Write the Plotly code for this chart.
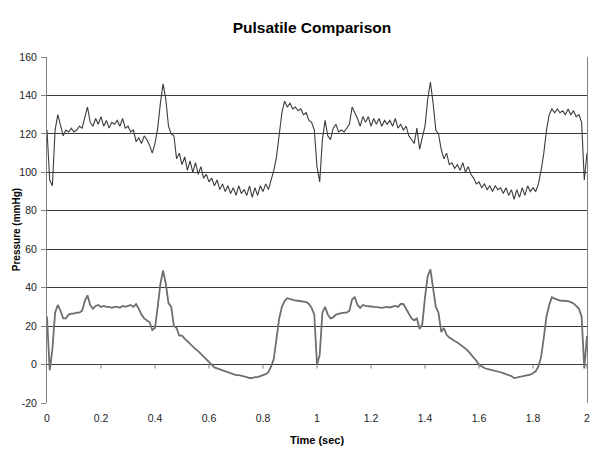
import plotly.graph_objects as go

# sample times, 0.01 s apart
time_sec = [round(i * 0.01, 2) for i in range(201)]

# upper trace (noisy)
upper_cycle1 = [122, 96, 93, 122, 130, 125, 119, 122, 121, 123,
                121, 122, 124, 123, 129, 134, 126, 124, 128, 125,
                129, 124, 127, 123, 126, 125, 127, 124, 128, 123,
                124, 121, 122, 116, 118, 115, 119, 117, 114, 110,
                115, 123, 136, 146, 138, 124, 120, 119, 107, 110,
                104, 108, 101, 106, 100, 105, 99, 103, 97, 99,
                95, 97, 93, 96, 91, 94, 90, 93, 89, 92,
                88, 93, 89, 91, 88, 93, 87, 92, 88, 93,
                90, 94, 91, 96, 101, 108, 120, 131, 137, 134,
                136, 133, 134, 132, 133, 130, 131, 127, 126, 122]
upper_cycle2 = [103, 95, 117, 127, 119, 117, 123, 125, 121, 122,
                121, 123, 125, 134, 131, 128, 124, 129, 126, 129,
                124, 128, 125, 128, 124, 127, 125, 127, 124, 128,
                123, 125, 122, 124, 119, 117, 115, 123, 112, 118,
                124, 138, 147, 136, 122, 120, 112, 107, 110, 104,
                105, 102, 104, 101, 105, 100, 103, 99, 97, 94,
                95, 92, 94, 91, 93, 90, 93, 91, 92, 89,
                92, 88, 91, 86, 91, 87, 92, 88, 93, 90,
                92, 90, 94, 101, 110, 122, 130, 133, 131, 133,
                131, 132, 130, 133, 130, 132, 129, 130, 126, 96,
                110]

# lower trace (smoother)
lower_cycle1 = [25, -3, 8, 27, 31, 28, 24, 24, 26, 26.5,
                26.5, 27, 27, 28, 33, 36, 31, 29, 30.5, 31,
                30, 30.5, 30, 30, 29.5, 30, 30, 29.5, 30.5, 30,
                30.5, 31, 30, 31.5, 29, 26, 24, 23, 22, 18,
                19, 30, 42, 49, 42, 32, 30, 20, 19, 15,
                15, 13.5, 12, 11, 9.5, 8, 7, 5.5, 4.5, 3,
                1, 0, -1.5, -2, -2.5, -3, -3.8, -4, -4.5, -5,
                -5.5, -5.5, -6, -6.2, -6.5, -7, -7, -6.5, -6.5, -6,
                -5.5, -5, -4, -1, 3, 13, 24, 30, 33, 34.5,
                34, 33.5, 33.3, 33.2, 33, 33, 32.5, 31.5, 29.5, 26]
lower_cycle2 = [0, 5, 27, 30, 26, 24, 24.5, 26, 26.5, 26.8,
                27, 27, 28, 34, 35, 31, 29.5, 31, 30.5, 30.5,
                30.2, 30, 30, 29.8, 29.5, 29.8, 30, 29.7, 30.3, 30.5,
                30, 31.5, 31.5, 29, 26, 24, 23, 24, 18.5, 21,
                35, 46, 49.5, 40, 30, 27, 17, 19, 15.5, 14,
                13, 12.3, 11.5, 10.5, 9.5, 8.3, 7, 5.5, 4, 2,
                0, -1, -1.8, -2.3, -2.6, -3, -3.3, -3.7, -4, -4.5,
                -5, -5.3, -6, -7, -6.7, -6.5, -6.3, -6, -5.8, -5.3,
                -4.5, -3.5, -1, 4, 14, 25, 31, 35, 34.3, 33.6,
                33.3, 33.2, 33.2, 33, 32.5, 31.8, 30.5, 29, 25, -2,
                15]

upper = upper_cycle1 + upper_cycle2
lower = lower_cycle1 + lower_cycle2

x_ticks = [0, 0.2, 0.4, 0.6, 0.8, 1, 1.2, 1.4, 1.6, 1.8, 2]
x_labels = ["0", "0.2", "0.4", "0.6", "0.8", "1", "1.2", "1.4", "1.6", "1.8", "2"]
y_ticks = [-20, 0, 20, 40, 60, 80, 100, 120, 140, 160]
y_labels = ["-20", "0", "20", "40", "60", "80", "100", "120", "140", "160"]

font = "Liberation Sans, Arial, sans-serif"

fig = go.Figure()
fig.add_trace(go.Scatter(x=time_sec, y=upper, mode="lines",
                         line=dict(color="#3c3c3c", width=1.1)))
fig.add_trace(go.Scatter(x=time_sec, y=lower, mode="lines",
                         line=dict(color="#6e6e6e", width=1.8)))

# excel puts the category axis at y=0, so the tick marks sit there
for t in x_ticks[1:]:
    fig.add_shape(type="line", xref="x", yref="y", x0=t, x1=t,
                  ysizemode="pixel", yanchor=0, y0=0, y1=-4,
                  line=dict(color="#808080", width=1))

# y title as an annotation so it can sit closer to the tick labels
fig.add_annotation(text="<b>Pressure (mmHg)</b>", textangle=-90,
                   xref="paper", yref="paper", x=-0.057, y=0.5,
                   xanchor="center", yanchor="middle", showarrow=False,
                   font=dict(size=10, color="#000"))

fig.update_layout(
    width=600, height=456,
    margin=dict(l=47, r=13, t=57, b=53),
    paper_bgcolor="white", plot_bgcolor="white",
    showlegend=False,
    font=dict(family=font, size=10.5, color="#222"),
    title=dict(text="<b>Pulsatile Comparison</b>", x=0.52, xanchor="center",
               y=0.939, yanchor="middle", yref="container",
               font=dict(size=15.5, color="#000")),
)
fig.update_xaxes(range=[0, 2], tickvals=x_ticks, ticktext=x_labels, ticks="",
                 showgrid=False, zeroline=False, showline=False,
                 ticklabelstandoff=7, automargin=False,
                 title=dict(text="<b>Time (sec)</b>", standoff=13,
                            font=dict(size=11, color="#000")))
fig.update_yaxes(range=[-20, 160], tickvals=y_ticks, ticktext=y_labels,
                 showgrid=True, gridcolor="#3a3a3a", gridwidth=1,
                 zeroline=False, showline=True, linecolor="#808080",
                 mirror=True, ticks="outside", ticklen=5, tickcolor="#808080",
                 ticklabelstandoff=2, automargin=False)

# drop the page's default 8px body margin so the figure sits at 0,0
fig.write_html("out.html", config={"displayModeBar": False},
               post_script="document.body.style.margin='0';")
